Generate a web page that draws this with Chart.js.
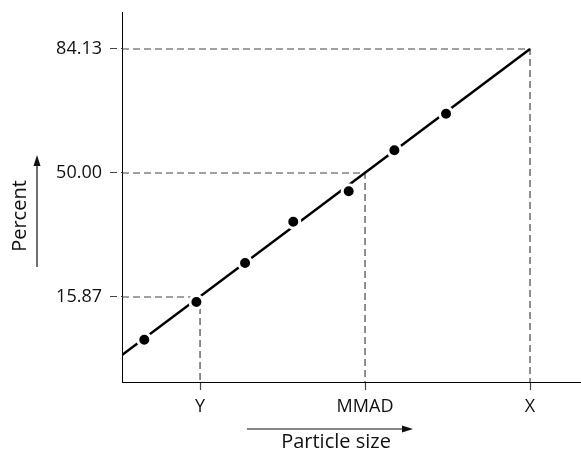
<!DOCTYPE html>
<html lang="en">
  <head>
    <meta charset="utf-8">
    <title>Particle size distribution</title>
    <script src="https://cdn.jsdelivr.net/npm/chart.js"></script>
    <style>
      html, body { margin: 0; padding: 0; background: #fff; }
      #box { width: 581px; height: 453px; }
    </style>
  </head>
  <body>
    <div id="box"><canvas id="probitChart"></canvas></div>

    <script>
      // measured points (x in particle-size units, y in percent)
      var sizeX = [0.662, 0.978, 1.273, 1.565, 1.901, 2.178, 2.491];
      var percentY = [4.12, 14.49, 25.23, 36.60, 44.96, 56.25, 66.32];

      // fitted line ends
      var fitX = [0.527, 3.0];
      var fitY = [-0.1, 84.13];

      // marker positions: Y, MMAD, X
      var xTicks = [1, 2, 3];
      var xTickLabels = ['Y', 'MMAD', 'X'];
      var yTicks = [15.87, 50.00, 84.13];
      var yTickLabels = ['15.87', '50.00', '84.13'];

      var xMin = 0.527, xMax = 3.309;
      var yMin = -7.53, yMax = 94.31;

      function pairs(xs, ys) {
        var out = [];
        for (var i = 0; i < xs.length; i++) out.push({x: xs[i], y: ys[i]});
        return out;
      }

      // dashed guide from y axis to the marker and down to the x axis
      var guides = [];
      for (var i = 0; i < xTicks.length; i++) {
        guides.push({
          type: 'line',
          data: [
            {x: xMin, y: yTicks[i]},
            {x: xTicks[i], y: yTicks[i]},
            {x: xTicks[i], y: yMin}
          ],
          borderColor: '#444',
          borderWidth: 1.2,
          borderDash: [7, 4],
          pointRadius: 0,
          order: 2
        });
      }

      var FONT = "'Open Sans', sans-serif";

      // axis titles with arrows
      var axisArrows = {
        id: 'axisArrows',
        afterDraw: function(chart) {
          var ctx = chart.ctx;
          ctx.save();
          ctx.fillStyle = '#111';
          ctx.strokeStyle = '#111';
          ctx.lineWidth = 1.2;
          ctx.font = '20px ' + FONT;
          ctx.textAlign = 'center';
          ctx.textBaseline = 'middle';

          ctx.save();
          ctx.translate(20, 216);
          ctx.rotate(-Math.PI / 2);
          ctx.fillText('Percent', 0, 0);
          ctx.restore();

          ctx.beginPath();
          ctx.moveTo(37, 267);
          ctx.lineTo(37, 164);
          ctx.stroke();
          ctx.beginPath();
          ctx.moveTo(37, 155);
          ctx.lineTo(33.5, 166);
          ctx.lineTo(40.5, 166);
          ctx.closePath();
          ctx.fill();

          ctx.fillText('Particle size', 336, 442);

          ctx.beginPath();
          ctx.moveTo(247, 429);
          ctx.lineTo(404, 429);
          ctx.stroke();
          ctx.beginPath();
          ctx.moveTo(413, 429);
          ctx.lineTo(402, 425.5);
          ctx.lineTo(402, 432.5);
          ctx.closePath();
          ctx.fill();
          ctx.restore();
        }
      };

      var datasets = [
        {
          type: 'scatter',
          data: pairs(sizeX, percentY),
          backgroundColor: '#000',
          borderColor: '#fff',
          borderWidth: 3,
          pointRadius: 6.5,
          order: 0
        },
        {
          type: 'line',
          data: pairs(fitX, fitY),
          borderColor: '#000',
          borderWidth: 2.5,
          pointRadius: 0,
          order: 1
        }
      ].concat(guides);

      new Chart(document.getElementById('probitChart'), {
        type: 'scatter',
        data: { datasets: datasets },
        plugins: [axisArrows],
        options: {
          responsive: true,
          maintainAspectRatio: false,
          animation: false,
          layout: { autoPadding: false, padding: { top: 12, right: 0, left: 0, bottom: 0 } },
          plugins: { legend: { display: false }, tooltip: { enabled: false } },
          scales: {
            x: {
              type: 'linear',
              min: xMin,
              max: xMax,
              afterBuildTicks: function(scale) {
                scale.ticks = xTicks.map(function(v) { return {value: v}; });
              },
              afterFit: function(scale) {
                scale.height = 71;
                scale.paddingLeft = 0;
                scale.paddingRight = 0;
              },
              ticks: {
                color: '#111',
                font: { family: FONT, size: 18 },
                padding: 4,
                callback: function(v) { return xTickLabels[xTicks.indexOf(v)]; }
              },
              grid: {
                drawOnChartArea: false,
                drawTicks: true,
                tickLength: 10,
                tickColor: '#444',
                tickWidth: 1.2,
                tickBorderDash: [7, 4]
              },
              border: { display: true, color: '#000', width: 1 }
            },
            y: {
              type: 'linear',
              min: yMin,
              max: yMax,
              afterBuildTicks: function(scale) {
                scale.ticks = yTicks.map(function(v) { return {value: v}; });
              },
              afterFit: function(scale) {
                scale.width = 122;
                scale.paddingTop = 0;
                scale.paddingBottom = 0;
              },
              ticks: {
                color: '#111',
                font: { family: FONT, size: 18 },
                padding: 8,
                callback: function(v) { return yTickLabels[yTicks.indexOf(v)]; }
              },
              grid: {
                drawOnChartArea: false,
                drawTicks: true,
                tickLength: 12,
                tickColor: '#444',
                tickWidth: 1.2,
                tickBorderDash: [7, 4]
              },
              border: { display: true, color: '#000', width: 1 }
            }
          }
        }
      });
    </script>
  </body>
</html>
